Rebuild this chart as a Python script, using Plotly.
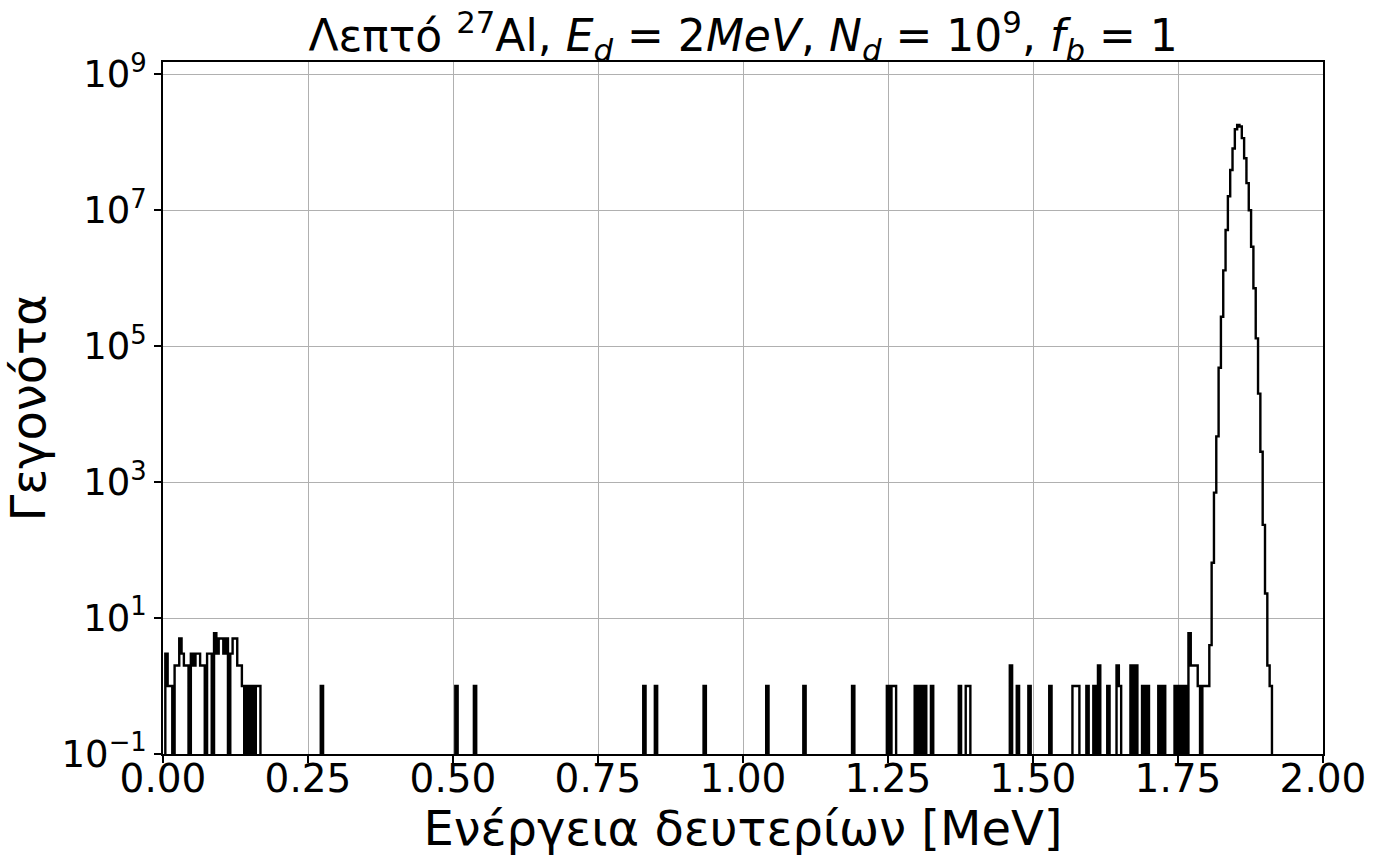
import numpy as np
import plotly.graph_objects as go

# Histogram binning: 500 bins between 0 and 2 MeV
E_MIN, E_MAX, N_BINS = 0.0, 2.0, 500

# Sparse low-count events (bin index, counts)
bg_bins = [1, 2, 3, 5, 6, 7, 8, 9, 10, 12, 13, 14, 15, 16, 17, 19, 20, 22, 23, 24,
           25, 26, 27, 29, 30, 31, 32, 33, 34, 36, 38, 40, 41,
           68, 126, 134, 207, 212, 233, 260, 276, 297,
           312, 314, 315, 324, 326, 328, 331, 343, 346, 347,
           365, 368, 373, 382, 392, 393, 394, 398, 401, 403, 407, 411, 412,
           417, 419, 422, 424, 429, 431, 436, 438, 440,
           442, 443, 444, 445, 446, 448, 449, 450]
bg_counts = [3, 1, 1, 2, 2, 5, 3, 2, 2, 3, 2, 3, 3, 2, 2, 3, 3, 6, 3, 5,
             5, 3, 5, 3, 5, 5, 2, 2, 1, 1, 1, 1, 1,
             1, 1, 1, 1, 1, 1, 1, 1, 1,
             1, 1, 1, 1, 1, 1, 1, 1, 1, 1,
             2, 1, 1, 1, 1, 1, 1, 1, 1, 2, 1, 2, 1,
             2, 2, 1, 1, 1, 1, 1, 1, 1,
             6, 2, 2, 2, 1, 1, 1, 1]

# Transmitted deuteron peak
peak_first_bin = 451
peak_counts = [4, 65, 700, 4.7e3, 4.8e4, 2.7e5, 1.3e6, 5.1e6, 1.6e7, 3.9e7,
               8.1e7, 1.55e8, 1.8e8, 1.7e8, 1.15e8, 5.8e7, 2.5e7, 1.0e7, 2.9e6,
               7.1e5, 1.3e5, 2.0e4, 2.8e3, 235, 23, 2, 1]

x_ticks = [0.0, 0.25, 0.5, 0.75, 1.0, 1.25, 1.5, 1.75, 2.0]
y_exponents = [-1, 1, 3, 5, 7, 9]

# Assemble the full histogram
edges = np.linspace(E_MIN, E_MAX, N_BINS + 1)
counts = np.zeros(N_BINS)
counts[bg_bins] = bg_counts
counts[peak_first_bin:peak_first_bin + len(peak_counts)] = peak_counts

# Step outline; empty bins drop below the axis floor and get clipped
FLOOR = 1e-3
plot_counts = np.where(counts > 0, counts, FLOOR)
xs = np.repeat(edges, 2)[1:-1]
ys = np.repeat(plot_counts, 2)
xs = np.concatenate([[edges[0]], xs, [edges[-1]]])
ys = np.concatenate([[FLOOR], ys, [FLOOR]])

fig = go.Figure(go.Scatter(x=xs, y=ys, mode="lines",
                           line=dict(color="black", width=2.4),
                           hoverinfo="skip", showlegend=False))

FONT = "DejaVu Sans"
axis_common = dict(showline=True, mirror=True, linecolor="black", linewidth=1.5,
                   ticks="outside", ticklen=7, tickwidth=1.5, tickcolor="black",
                   showgrid=True, gridcolor="#b0b0b0", gridwidth=1,
                   zeroline=False, automargin=False)

fig.update_xaxes(range=[E_MIN, E_MAX], tickvals=x_ticks,
                 ticktext=[f"{v:.2f}" for v in x_ticks],
                 tickfont=dict(family=FONT, size=39, color="black"),
                 ticklabelstandoff=-18,
                 title=dict(text="Ενέργεια δευτερίων [MeV]",
                            font=dict(family=FONT, size=48, color="black")),
                 **axis_common)
fig.update_yaxes(type="log", range=[-1, 9.18],
                 tickvals=[10.0 ** e for e in y_exponents],
                 ticktext=[f"10<sup>{'−' if e < 0 else ''}{abs(e)}</sup>" for e in y_exponents],
                 tickfont=dict(family=FONT, size=37, color="black"),
                 title=dict(text="Γεγονότα",
                            font=dict(family=FONT, size=48, color="black")),
                 **axis_common)

fig.update_layout(
    width=1382, height=856,
    margin=dict(l=163, r=59, t=62, b=102),
    plot_bgcolor="white", paper_bgcolor="white",
    title=dict(text="Λεπτό <sup>27</sup>Al, <i>E<sub>d</sub></i> = 2<i>MeV</i>, "
                    "<i>N<sub>d</sub></i> = 10<sup>9</sup>, <i>f<sub>b</sub></i> = 1",
               font=dict(family=FONT, size=44, color="black"),
               x=0.5377, xanchor="center", xref="container",
               y=1 - 36 / 856, yanchor="middle", yref="container"),
)

fig.write_html("out.html")
